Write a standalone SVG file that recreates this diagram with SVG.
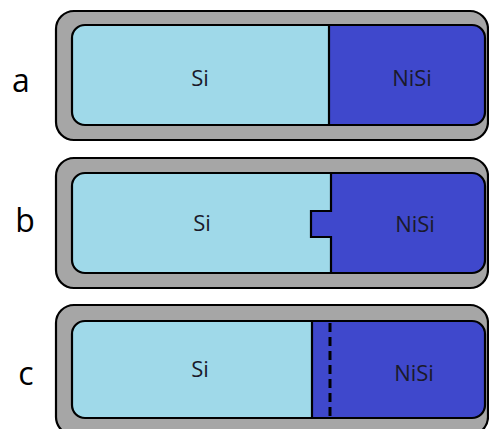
<svg xmlns="http://www.w3.org/2000/svg" width="489" height="429" viewBox="0 0 489 429">
<style>
.outer{fill:#a6a6a6;stroke:#000;stroke-width:2.2}
.si{fill:#9fd9e9}
.nisi{fill:#3f48cc}
.edge{fill:none;stroke:#000;stroke-width:2.2}
.div{fill:none;stroke:#000;stroke-width:2.2}
.dash{fill:none;stroke:#000;stroke-width:3;stroke-dasharray:9,5}
.t{font-family:"Open Sans","Liberation Sans",sans-serif;font-size:22px;fill:#1a1a2a;text-anchor:middle}
.lbl{font-family:"Open Sans","Liberation Sans",sans-serif;font-size:32px;fill:#000;text-anchor:middle}
</style>
<defs>
<clipPath id="ca"><rect x="72" y="25" width="413" height="100" rx="13"/></clipPath>
<clipPath id="cb"><rect x="72" y="173" width="413" height="100" rx="13"/></clipPath>
<clipPath id="cc"><rect x="72" y="321" width="413" height="97" rx="13"/></clipPath>
</defs>
<g id="panel-a">
<text class="lbl" x="21" y="92">a</text>
<rect class="outer" x="56" y="11" width="432" height="129" rx="18"/>
<g clip-path="url(#ca)">
<rect class="si" x="72" y="25" width="413" height="100"/>
<rect class="nisi" x="329" y="25" width="160" height="100"/>
</g>
<line class="div" x1="329" y1="25" x2="329" y2="125"/>
<rect class="edge" x="72" y="25" width="413" height="100" rx="13"/>
<text class="t" x="200" y="86">Si</text>
<text class="t" x="412" y="86">NiSi</text>
</g>
<g id="panel-b">
<text class="lbl" x="25" y="232">b</text>
<rect class="outer" x="56" y="158" width="432" height="130" rx="18"/>
<g clip-path="url(#cb)">
<rect class="si" x="72" y="173" width="413" height="100"/>
<path class="nisi" d="M331,173 V211 H311 V237 H331 V273 H489 V173 Z"/>
</g>
<path class="div" d="M331,173 V211 H311 V237 H331 V273"/>
<rect class="edge" x="72" y="173" width="413" height="100" rx="13"/>
<text class="t" x="202" y="231">Si</text>
<text class="t" x="415" y="232">NiSi</text>
</g>
<g id="panel-c">
<text class="lbl" x="26" y="385">c</text>
<rect class="outer" x="56" y="305" width="432" height="130" rx="18"/>
<g clip-path="url(#cc)">
<rect class="si" x="72" y="321" width="413" height="97"/>
<rect class="nisi" x="312" y="321" width="177" height="97"/>
</g>
<line class="div" x1="312" y1="321" x2="312" y2="418"/>
<line class="dash" x1="330" y1="323" x2="330" y2="418"/>
<rect class="edge" x="72" y="321" width="413" height="97" rx="13"/>
<text class="t" x="200" y="377">Si</text>
<text class="t" x="414" y="381">NiSi</text>
</g>
</svg>
